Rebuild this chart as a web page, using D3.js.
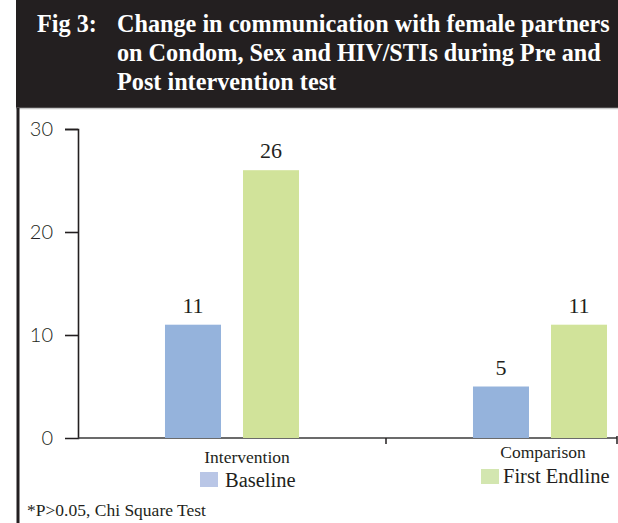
<html>
  <head>
    <meta charset="utf-8" />
    <script src="https://d3js.org/d3.v7.min.js"></script>
    <style>
      body {
        margin: 0;
        background: #fff;
      }
      text {
        fill: #231f20;
      }
    </style>
  </head>

  <body>
    <svg id="chart" width="618" height="523"></svg>
    <script>
      // data
      var groups = ["Intervention", "Comparison"];
      var series = ["Baseline", "First Endline"];
      var baseline = [11, 5];
      var endline = [26, 11];
      var yTicks = [0, 10, 20, 30];
      var titleLines = [
        "Change in communication with female partners",
        "on Condom, Sex and HIV/STIs during Pre and",
        "Post intervention test",
      ];

      var barColors = ["#95b3dc", "#d1e39a"];
      var keyColors = ["#b9c6e6", "#d3e6b0"];
      var serif = "'Liberation Serif', 'DejaVu Serif', serif";

      var svg = d3.select("#chart"),
        W = +svg.attr("width"),
        H = +svg.attr("height");

      // header block
      svg.append("rect")
        .attr("x", 16).attr("y", 0)
        .attr("width", W - 16).attr("height", 108)
        .attr("fill", "#231f20");
      svg.append("line")
        .attr("x1", 16).attr("x2", W)
        .attr("y1", 108.5).attr("y2", 108.5)
        .attr("stroke", "#c8c8c8").attr("stroke-width", 1.5);
      svg.append("line")
        .attr("x1", 18).attr("x2", 18)
        .attr("y1", 108).attr("y2", H)
        .attr("stroke", "#231f20").attr("stroke-width", 3);

      var title = svg.append("g");
      title.selectAll("text")
        .data(titleLines)
        .enter().append("text")
        .attr("x", 117)
        .attr("y", (d, i) => 32 + i * 29)
        .attr("font-family", serif).attr("font-weight", "bold")
        .attr("font-size", 21).style("fill", "#fff")
        .text((d) => d);
      // fit the longest line to ~493px like the original
      var first = title.select("text").node();
      var fs = 21 * 493 / first.getComputedTextLength();
      title.selectAll("text").attr("font-size", fs);

      svg.append("text")
        .attr("x", 37).attr("y", 32)
        .attr("font-family", serif).attr("font-weight", "bold")
        .attr("font-size", fs).style("fill", "#fff")
        .text("Fig 3:");

      // scales
      var y = d3.scaleLinear().domain([0, 30]).range([438, 129]);
      var x = d3.scaleBand().domain(groups).range([78, 694]);
      var xs = d3.scaleBand().domain(series)
        .range([0, x.bandwidth()])
        .paddingInner(0.282).paddingOuter(1.115);

      // y axis
      var yAxis = svg.append("g")
        .attr("transform", "translate(78,0)")
        .call(d3.axisLeft(y).tickValues(yTicks).tickSize(13).tickPadding(12));
      yAxis.select(".domain").attr("stroke", "#231f20").attr("stroke-width", 1.6);
      yAxis.selectAll(".tick line")
        .attr("stroke", "#231f20").attr("stroke-width", 1.6)
        .attr("display", (d) => (d === 0 ? "none" : null));
      yAxis.selectAll(".tick text")
        .attr("font-family", "Lato, 'Open Sans', sans-serif")
        .attr("font-weight", 300)
        .attr("font-size", 20).attr("dy", "0.32em")
        .style("fill", "#231f20");

      // x baseline + group boundary ticks
      svg.append("line")
        .attr("x1", 78).attr("x2", W - 1)
        .attr("y1", y(0)).attr("y2", y(0))
        .attr("stroke", "#3a3a3a").attr("stroke-width", 1.6);
      svg.selectAll(".xtick")
        .data(groups)
        .enter().append("line")
        .attr("class", "xtick")
        .attr("x1", (d) => x(d) + x.bandwidth())
        .attr("x2", (d) => x(d) + x.bandwidth())
        .attr("y1", y(0)).attr("y2", y(0) + 6)
        .attr("stroke", "#231f20").attr("stroke-width", 1.5);
      svg.append("line")
        .attr("x1", W - 1).attr("x2", W - 1)
        .attr("y1", y(0) - 2).attr("y2", y(0) + 6)
        .attr("stroke", "#231f20").attr("stroke-width", 1.5);

      // bars
      var rows = [];
      groups.forEach(function (g, i) {
        rows.push({ group: g, key: series[0], value: baseline[i], s: 0 });
        rows.push({ group: g, key: series[1], value: endline[i], s: 1 });
      });

      svg.selectAll("rect.bar")
        .data(rows)
        .enter().append("rect")
        .attr("class", "bar")
        .attr("x", (d) => x(d.group) + xs(d.key))
        .attr("y", (d) => y(d.value))
        .attr("width", xs.bandwidth())
        .attr("height", (d) => y(0) - y(d.value))
        .attr("fill", (d) => barColors[d.s]);

      svg.selectAll("text.val")
        .data(rows)
        .enter().append("text")
        .attr("class", "val")
        .attr("x", (d) => x(d.group) + xs(d.key) + xs.bandwidth() / 2)
        .attr("y", (d) => y(d.value) - 12)
        .attr("text-anchor", "middle")
        .attr("font-family", serif).attr("font-size", 22)
        .text((d) => d.value);

      // category labels (the original sits them a bit off-centre)
      var nudge = { Intervention: [15, 463], Comparison: [3, 458] };
      svg.selectAll("text.cat")
        .data(groups)
        .enter().append("text")
        .attr("class", "cat")
        .attr("x", (d) => x(d) + x.bandwidth() / 2 + nudge[d][0])
        .attr("y", (d) => nudge[d][1])
        .attr("text-anchor", "middle")
        .attr("font-family", serif).attr("font-size", 17.5)
        .text((d) => d);

      // legend
      var keyPos = [[200, 472, 225, 487], [481, 469, 503, 483]];
      var key = svg.selectAll("g.key")
        .data(series)
        .enter().append("g")
        .attr("class", "key");
      key.append("rect")
        .attr("x", (d, i) => keyPos[i][0])
        .attr("y", (d, i) => keyPos[i][1])
        .attr("width", 18).attr("height", 15)
        .attr("fill", (d, i) => keyColors[i]);
      key.append("text")
        .attr("x", (d, i) => keyPos[i][2])
        .attr("y", (d, i) => keyPos[i][3])
        .attr("font-family", serif).attr("font-size", 20.5)
        .text((d) => d);

      svg.append("text")
        .attr("x", 27).attr("y", 516)
        .attr("font-family", serif).attr("font-size", 17.5)
        .text("*P>0.05, Chi Square Test");
    </script>
  </body>
</html>
